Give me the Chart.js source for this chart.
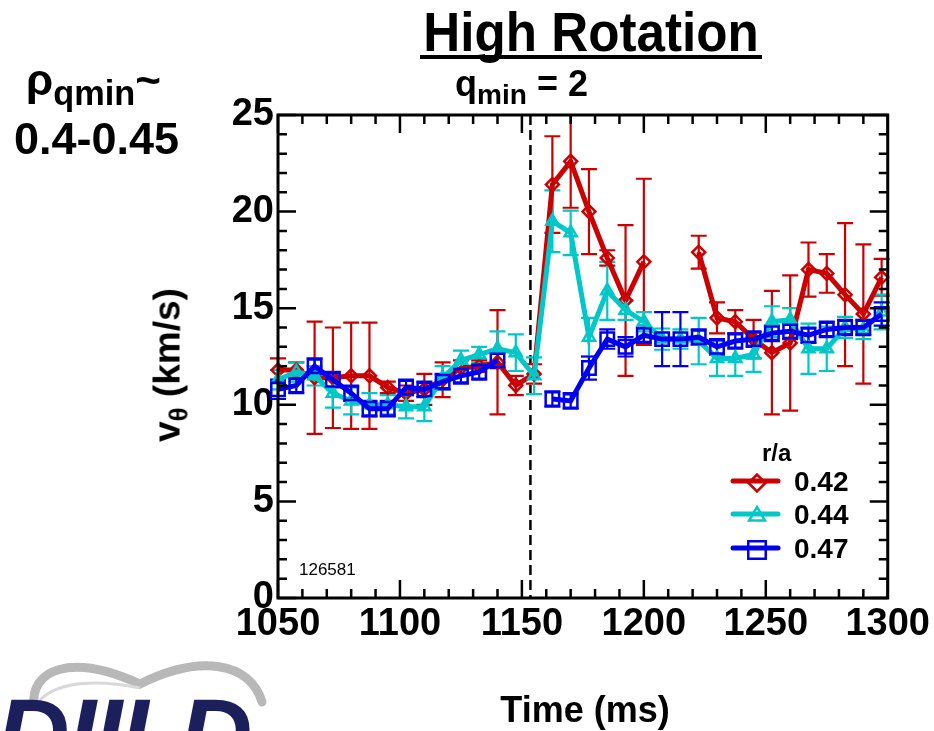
<!DOCTYPE html>
<html>
<head>
<meta charset="utf-8">
<script src="https://cdn.jsdelivr.net/npm/chart.js@4.4.1/dist/chart.umd.min.js"></script>
<style>
body { margin: 0; background: #fff; }
#wrap { position: relative; width: 934px; height: 731px; overflow: hidden; font-family: "Liberation Sans", Arial, sans-serif; font-weight: bold; color: #000; }
#c { position: absolute; left: 0; top: 0; }
.t { position: absolute; white-space: nowrap; line-height: 1; }
.t sub { font-size: 0.7em; vertical-align: -0.3em; line-height: 0; }
</style>
</head>
<body>
<div id="wrap">
  <canvas id="c" width="934" height="731"></canvas>
  <div class="t" style="left:591px; top:5px; font-size:55px; transform:translateX(-50%) scaleX(0.93);">High Rotation</div>
  <div style="position:absolute; left:420px; top:55px; width:342px; height:4px; background:#000;"></div>
  <div class="t" style="left:455px; top:66px; font-size:36px;">q<sub style="font-size:0.78em">min</sub> = 2</div>
  <div class="t" style="left:26px; top:58px; font-size:44px;">ρ<sub style="font-size:0.78em">qmin</sub>~</div>
  <div class="t" style="left:14px; top:116px; font-size:45px;">0.4-0.45</div>
  <div class="t" style="left:167px; top:365px; font-size:37px; transform:translate(-50%,-50%) rotate(-90deg);">v<sub>θ</sub> (km/s)</div>
  <div class="t" style="left:585px; top:692px; font-size:36px; transform:translateX(-50%);">Time (ms)</div>
  <div class="t" id="shot" style="left:299px; top:561px; font-size:17px; font-weight:normal;"></div>
  <svg style="position:absolute; left:0; top:640px;" width="280" height="91">
    <path d="M 34 66 C 30 30, 70 12, 140 44 C 200 14, 250 22, 262 62" fill="none" stroke="#b8b8b8" stroke-width="9" stroke-linecap="round"/>
    <path d="M 40 60 C 60 40, 100 40, 140 48" fill="none" stroke="#d8d8d8" stroke-width="3"/>
  </svg>
  <div class="t" style="left:-4px; top:684px; font-size:102px; font-style:italic; color:#1b1f5c; letter-spacing:-2px;">DIII-D</div>
</div>
<script>
// sample times (ms)
const times = [1050, 1057.5, 1065, 1072.5, 1080, 1087.5, 1095, 1102.5, 1110, 1117.5, 1125, 1132.5,
  1140, 1147.5, 1155, 1162.5, 1170, 1177.5, 1185, 1192.5, 1200, 1207.5, 1215, 1222.5,
  1230, 1237.5, 1245, 1252.5, 1260, 1267.5, 1275, 1282.5, 1290, 1297.5];

// v_theta (km/s) and error for r/a = 0.42
const v042 = [11.8, 11.8, 11.4, 11.4, 11.5, 11.5, 10.9, 10.6, 10.8, 11.3, 11.9, 12.0,
  12.2, 11.0, 11.6, 21.4, 22.6, 20.0, 17.6, 15.4, 17.4, null, null, 17.9,
  14.5, 14.3, 13.4, 12.7, 13.2, 17.0, 16.8, 15.7, 14.7, 16.6];
const e042 = [0.6, 0.4, 2.9, 2.6, 2.75, 2.75, 0.3, 0.4, 0.8, 0.9, 0.4, 0.3,
  2.7, 0.5, 0.5, 2.5, 2.4, 2.2, 0.4, 3.9, 4.3, null, null, 0.85,
  0.8, 0.6, 1.0, 3.2, 3.5, 1.4, 1.0, 3.7, 3.6, 0.95];

// r/a = 0.44
const v044 = [11.3, 11.7, 11.5, 10.6, 10.2, 10.0, 10.0, 9.9, 9.9, 11.4, 12.3, 12.6,
  12.9, 12.7, 11.5, 19.5, 18.9, 13.5, 15.9, 14.9, 14.3, 13.4, 13.4, 13.3,
  12.4, 12.4, 12.6, 14.3, 14.4, 12.9, 12.9, 14.0, 13.9, 14.8];
const e044 = [0.5, 0.5, 0.5, 0.75, 0.7, 0.6, 0.5, 0.6, 0.75, 0.6, 0.5, 0.4,
  0.9, 0.95, 0.95, 1.6, 1.15, 1.0, 1.5, 0.5, 0.5, 0.55, 0.5, 1.2,
  0.9, 0.9, 0.9, 0.8, 0.6, 1.3, 1.15, 0.55, 0.5, 0.9];

// r/a = 0.47
const v047 = [10.8, 11.0, 12.0, 11.3, 10.6, 9.8, 9.8, 10.9, 10.8, 11.2, 11.5, 11.7,
  12.3, null, null, 10.3, 10.2, 11.9, 13.4, 13.0, 13.6, 13.4, 13.4, 13.5,
  13.0, 13.3, 13.4, 13.7, 13.8, 13.6, 13.9, 14.0, 14.0, 14.7];
const e047 = [0.5, 0.4, 0.4, 0.4, 0.4, 0.4, 0.4, 0.4, 0.4, 0.4, 0.4, 0.4,
  0.4, null, null, 0.4, 0.4, 0.6, 0.5, 0.5, 0.4, 1.4, 1.4, 0.4,
  0.4, 0.4, 0.4, 0.4, 0.4, 0.4, 0.4, 0.4, 0.4, 0.6];

const xTicks = [1050, 1100, 1150, 1200, 1250, 1300];
const yTicks = [0, 5, 10, 15, 20, 25];
const radii = ['0.42', '0.44', '0.47'];
const qminTime = 1153.5;
const shotNumber = '126581';

document.getElementById('shot').textContent = shotNumber;

const series = [
  { label: radii[0], vals: v042, errs: e042, color: '#cc0000', style: 'rectRot', r: 6.5, order: 2 },
  { label: radii[1], vals: v044, errs: e044, color: '#00c8c8', style: 'triangle', r: 7, order: 1 },
  { label: radii[2], vals: v047, errs: e047, color: '#0000f0', style: 'rect', r: 9.5, order: 0 }
];

const tickFont = { family: '"Liberation Sans", Arial, sans-serif', size: 38, weight: 'bold' };

// error bars + q_min marker, under the lines
const errorBars = {
  id: 'errorBars',
  beforeDatasetsDraw(chart) {
    const { ctx, chartArea, scales: { x, y } } = chart;
    ctx.save();
    ctx.strokeStyle = '#000';
    ctx.lineWidth = 2.5;
    ctx.setLineDash([10, 5]);
    const qx = x.getPixelForValue(qminTime);
    ctx.beginPath();
    ctx.moveTo(qx, chartArea.top);
    ctx.lineTo(qx, chartArea.bottom);
    ctx.stroke();
    ctx.setLineDash([]);
    ctx.lineWidth = 2.2;
    chart.data.datasets.forEach(ds => {
      ctx.strokeStyle = ds.borderColor;
      ds.data.forEach((p, i) => {
        const e = ds.errs[i];
        if (p.y == null || e == null) return;
        const px = x.getPixelForValue(p.x);
        const top = y.getPixelForValue(p.y + e);
        const bot = y.getPixelForValue(p.y - e);
        ctx.beginPath();
        ctx.moveTo(px, top); ctx.lineTo(px, bot);
        ctx.moveTo(px - 8, top); ctx.lineTo(px + 8, top);
        ctx.moveTo(px - 8, bot); ctx.lineTo(px + 8, bot);
        ctx.stroke();
      });
    });
    ctx.restore();
  }
};

// box frame with inward ticks on all sides
const frame = {
  id: 'frame',
  afterDraw(chart) {
    const { ctx, chartArea: a, scales: { x, y } } = chart;
    ctx.save();
    ctx.strokeStyle = '#000';
    ctx.lineWidth = 3;
    ctx.strokeRect(a.left, a.top, a.right - a.left, a.bottom - a.top);
    ctx.lineWidth = 2.5;
    ctx.beginPath();
    for (let t = 1050; t <= 1300; t += 10) {
      const px = x.getPixelForValue(t);
      const len = (t % 50 === 0) ? 18 : 9;
      ctx.moveTo(px, a.bottom); ctx.lineTo(px, a.bottom - len);
      ctx.moveTo(px, a.top); ctx.lineTo(px, a.top + len);
    }
    for (let v = 0; v <= 25; v += 1) {
      const py = y.getPixelForValue(v);
      const len = (v % 5 === 0) ? 18 : 9;
      ctx.moveTo(a.left, py); ctx.lineTo(a.left + len, py);
      ctx.moveTo(a.right, py); ctx.lineTo(a.right - len, py);
    }
    ctx.stroke();
    ctx.restore();
  }
};

// legend with line + marker
const legendBox = {
  id: 'legendBox',
  afterDraw(chart) {
    const { ctx } = chart;
    ctx.save();
    ctx.fillStyle = '#000';
    ctx.font = 'bold 24px "Liberation Sans", Arial, sans-serif';
    ctx.textBaseline = 'alphabetic';
    ctx.fillText('r/a', 762, 461);
    ctx.font = 'bold 28px "Liberation Sans", Arial, sans-serif';
    ctx.textBaseline = 'middle';
    const rows = [481, 514, 548];
    series.forEach((s, i) => {
      const yy = rows[i];
      ctx.strokeStyle = s.color;
      ctx.lineWidth = 5;
      ctx.lineCap = 'round';
      ctx.beginPath();
      ctx.moveTo(733, yy); ctx.lineTo(778, yy);
      ctx.stroke();
      ctx.fillStyle = 'rgba(0,0,0,0)';
      ctx.lineWidth = 2.5;
      Chart.helpers.drawPoint(ctx, { pointStyle: s.style, radius: s.r * 1.3, borderWidth: 2.5, rotation: 0 }, 757, yy + 2);
      ctx.fillStyle = '#000';
      ctx.fillText(s.label, 794, yy + 2);
    });
    ctx.restore();
  }
};

const ctx = document.getElementById('c');
new Chart(ctx, {
  type: 'line',
  data: {
    datasets: series.map(s => ({
      label: s.label,
      data: times.map((t, i) => ({ x: t, y: s.vals[i] })),
      errs: s.errs,
      order: s.order,
      borderColor: s.color,
      borderWidth: 5,
      pointStyle: s.style,
      pointRadius: s.r,
      pointBorderWidth: 2.5,
      pointBorderColor: s.color,
      pointBackgroundColor: 'rgba(0,0,0,0)',
      tension: 0,
      spanGaps: false,
      clip: false
    }))
  },
  options: {
    responsive: false,
    animation: false,
    devicePixelRatio: 1,
    layout: { padding: { left: 0, right: 45, top: 115, bottom: 0 } },
    plugins: { legend: { display: false }, tooltip: { enabled: false } },
    scales: {
      x: {
        type: 'linear', min: 1050, max: 1300,
        afterBuildTicks: s => { s.ticks = xTicks.map(v => ({ value: v })); },
        afterFit: s => { s.height = 133; },
        grid: { display: false, drawTicks: false },
        border: { display: false },
        ticks: { font: tickFont, color: '#000', padding: 4, maxRotation: 0, autoSkip: false, callback: v => String(v) }
      },
      y: {
        min: 0, max: 25,
        afterBuildTicks: s => { s.ticks = yTicks.map(v => ({ value: v })); },
        afterFit: s => { s.width = 278; },
        grid: { display: false, drawTicks: false },
        border: { display: false },
        ticks: { font: tickFont, color: '#000', padding: 4 }
      }
    }
  },
  plugins: [errorBars, frame, legendBox]
});
</script>
</body>
</html>
